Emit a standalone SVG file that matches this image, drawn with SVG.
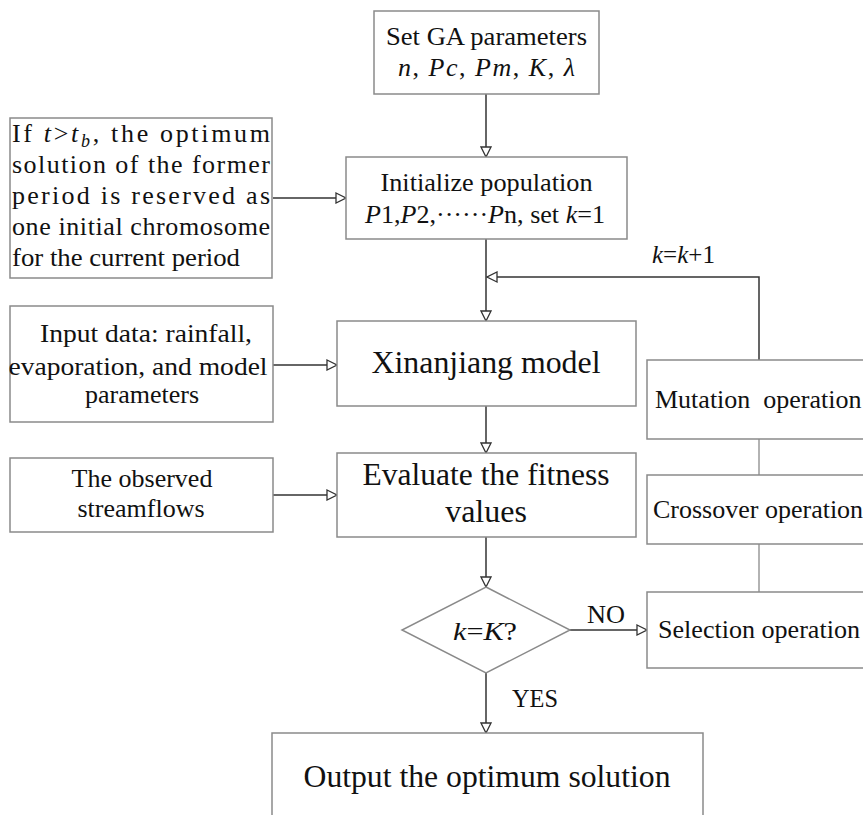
<svg xmlns="http://www.w3.org/2000/svg" width="863" height="815" viewBox="0 0 863 815">
<defs>
<style>
.box{fill:#ffffff;stroke:#8a8a8a;stroke-width:1.5}
.t{font-family:"Liberation Serif","Times New Roman",serif;fill:#111;font-size:26px}
.c{text-anchor:middle}
.i{font-style:italic}
.big{font-size:32px}
.con{fill:none;stroke:#333;stroke-width:1.5}
.thin{fill:none;stroke:#8a8a8a;stroke-width:1.3}
</style>
<marker id="ah" viewBox="0 0 12 12" refX="11" refY="6" markerWidth="12" markerHeight="12" markerUnits="userSpaceOnUse" orient="auto">
<path d="M1,1 L11,6 L1,11 Z" fill="#ffffff" stroke="#333" stroke-width="1.3"/>
</marker>
</defs>
<rect width="863" height="815" fill="#ffffff"/>

<g id="connectors">
<line class="con" x1="486" y1="94" x2="486" y2="157" marker-end="url(#ah)"/>
<line class="con" x1="273" y1="198" x2="346" y2="198" marker-end="url(#ah)"/>
<line class="con" x1="486" y1="239" x2="486" y2="321" marker-end="url(#ah)"/>
<polyline class="con" points="759,360 759,277 487,277" marker-end="url(#ah)"/>
<line class="con" x1="273" y1="365" x2="337" y2="365" marker-end="url(#ah)"/>
<line class="con" x1="486" y1="406" x2="486" y2="453" marker-end="url(#ah)"/>
<line class="con" x1="273" y1="495" x2="337" y2="495" marker-end="url(#ah)"/>
<line class="con" x1="486" y1="537" x2="486" y2="587" marker-end="url(#ah)"/>
<line class="con" x1="570" y1="630" x2="647" y2="630" marker-end="url(#ah)"/>
<line class="con" x1="486" y1="673" x2="486" y2="733" marker-end="url(#ah)"/>
<line class="thin" x1="759" y1="439" x2="759" y2="475"/>
<line class="thin" x1="759" y1="544" x2="759" y2="592"/>
<text class="t" x="652" y="263" textLength="63" lengthAdjust="spacingAndGlyphs" font-size="25"><tspan class="i">k</tspan>=<tspan class="i">k</tspan>+1</text>
<text class="t" x="587" y="623" textLength="38" lengthAdjust="spacingAndGlyphs">NO</text>
<text class="t" x="512" y="707" textLength="46" lengthAdjust="spacingAndGlyphs">YES</text>
</g>

<g id="set-ga">
<rect class="box" x="374" y="11" width="225" height="83"/>
<text class="t c" x="486.5" y="45" textLength="201" lengthAdjust="spacingAndGlyphs">Set GA parameters</text>
<text class="t c" x="486.5" y="76" textLength="177" lengthAdjust="spacing"><tspan class="i">n</tspan>, <tspan class="i">Pc</tspan>, <tspan class="i">Pm</tspan>, <tspan class="i">K</tspan>, <tspan class="i">λ</tspan></text>
</g>

<g id="initialize">
<rect class="box" x="346" y="157" width="281" height="82"/>
<text class="t c" x="486.5" y="191" textLength="212" lengthAdjust="spacingAndGlyphs">Initialize population</text>
<text class="t c" x="485" y="223" textLength="240" lengthAdjust="spacingAndGlyphs"><tspan class="i">P</tspan>1,<tspan class="i">P</tspan>2,······<tspan class="i">P</tspan>n, set <tspan class="i">k</tspan>=1</text>
</g>

<g id="reserve">
<rect class="box" x="10" y="118" width="262" height="160"/>
<text class="t" x="12" y="142" font-size="27" textLength="258" lengthAdjust="spacing">If <tspan class="i">t</tspan>&gt;<tspan class="i">t</tspan><tspan class="i" font-size="18" dy="5">b</tspan><tspan dy="-5">, the optimum</tspan></text>
<text class="t" x="12" y="173" font-size="27" textLength="258" lengthAdjust="spacing">solution of the former</text>
<text class="t" x="12" y="204" font-size="27" textLength="258" lengthAdjust="spacing">period is reserved as</text>
<text class="t" x="12" y="235" font-size="27" textLength="258" lengthAdjust="spacing">one initial chromosome</text>
<text class="t" x="12" y="266" font-size="27" textLength="228" lengthAdjust="spacingAndGlyphs">for the current period</text>
</g>

<g id="input-data">
<rect class="box" x="10" y="306" width="263" height="116"/>
<text class="t c" x="146" y="342" font-size="27" textLength="212" lengthAdjust="spacingAndGlyphs">Input data: rainfall,</text>
<text class="t c" x="138" y="375" font-size="27" textLength="259" lengthAdjust="spacingAndGlyphs">evaporation, and model</text>
<text class="t c" x="142" y="403" font-size="27">parameters</text>
</g>

<g id="xinanjiang">
<rect class="box" x="337" y="321" width="299" height="85"/>
<text class="t c big" x="486" y="373" textLength="229" lengthAdjust="spacingAndGlyphs">Xinanjiang model</text>
</g>

<g id="observed">
<rect class="box" x="10" y="458" width="263" height="74"/>
<text class="t c" x="142" y="487" font-size="27">The observed</text>
<text class="t c" x="141" y="517" font-size="27">streamflows</text>
</g>

<g id="evaluate">
<rect class="box" x="337" y="453" width="299" height="84"/>
<text class="t c big" x="486" y="485" textLength="247" lengthAdjust="spacingAndGlyphs">Evaluate the fitness</text>
<text class="t c big" x="486" y="522">values</text>
</g>

<g id="decision">
<polygon class="box" points="486,587 570,630 486,673 402,630"/>
<text class="t c" x="485" y="640" font-size="30" textLength="64" lengthAdjust="spacingAndGlyphs"><tspan class="i">k</tspan>=<tspan class="i">K</tspan>?</text>
</g>

<g id="mutation">
<rect class="box" x="647" y="360" width="260" height="79"/>
<text class="t" x="655" y="408" xml:space="preserve">Mutation  operation</text>
</g>

<g id="crossover">
<rect class="box" x="647" y="475" width="260" height="69"/>
<text class="t" x="653" y="518">Crossover operation</text>
</g>

<g id="selection">
<rect class="box" x="647" y="592" width="260" height="76"/>
<text class="t" x="658" y="638" textLength="202" lengthAdjust="spacingAndGlyphs">Selection operation</text>
</g>

<g id="output">
<rect class="box" x="272" y="733" width="431" height="100"/>
<text class="t c big" x="487" y="787" textLength="367" lengthAdjust="spacingAndGlyphs">Output the optimum solution</text>
</g>
</svg>
